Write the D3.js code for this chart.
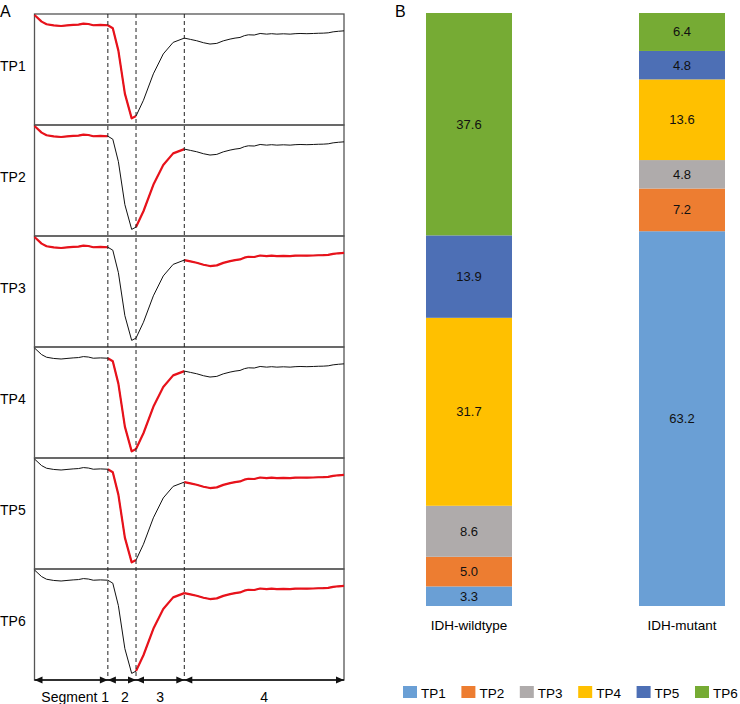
<!DOCTYPE html>
<html><head><meta charset="utf-8">
<script src="https://cdn.jsdelivr.net/npm/d3@7"></script>
<style>body{margin:0;background:#fff}svg{display:block;font-family:"Liberation Sans",Arial,sans-serif}</style>
</head><body>
<svg id="c" width="740" height="704"></svg>
<script>
// ---- Panel A data: signal curve (time as % of acquisition, normalized signal)
const time   = [0,2.3,3.9,6.2,8.6,10.5,12.5,14.2,15.8,17.4,19.0,21.3,23.7,25.3,27.1,29.2,31.4,32.8,35.2,38.4,41.6,44.8,48.4,50.4,52.4,54.6,56.7,58.9,61.0,63.2,64.8,66.4,67.8,69.1,71.0,72.9,75.0,76.6,78.3,80.4,82.6,84.2,85.8,88.0,90.1,91.7,93.3,94.9,96.5,98.2,100];
const signal = [1.0,0.94,0.916,0.905,0.90,0.905,0.91,0.913,0.922,0.918,0.907,0.91,0.907,0.88,0.676,0.285,0.06,0.081,0.225,0.465,0.646,0.751,0.79,0.778,0.766,0.748,0.736,0.742,0.765,0.781,0.79,0.796,0.812,0.82,0.818,0.832,0.826,0.83,0.826,0.829,0.826,0.83,0.832,0.83,0.832,0.834,0.835,0.838,0.847,0.852,0.856];
const segmentBreaks = [0, 23.7, 32.8, 48.4, 100];
const segmentLabels = ["Segment 1", "2", "3", "4"];
const patterns = ["TP1","TP2","TP3","TP4","TP5","TP6"];
const highlighted = [[0,1],[0,2],[0,3],[1,2],[1,3],[2,3]];

// ---- Panel B data
const groups = ["IDH-wildtype","IDH-mutant"];
const wildtype = [3.3,5.0,8.6,31.7,13.9,37.6];
const mutant   = [63.2,7.2,4.8,13.6,4.8,6.4];
const colors = ["#6a9fd5","#ed7d31","#afabab","#ffc000","#4d6fb5","#76ab34"];

const svg = d3.select("#c");

// ===== Panel A =====
const x = d3.scaleLinear().domain([0,100]).range([34.5,344]);
const top0 = 14, bottom0 = 680;
const band = d3.scaleBand().domain(patterns).range([top0,bottom0]);
const pts = time.map((t,i)=>({t, v:signal[i]}));

svg.append("text").attr("x",0).attr("y",17).attr("font-size",16).text("A");

patterns.forEach((p,k)=>{
  const y0 = band(p), h = band.bandwidth();
  const y = d3.scaleLinear().domain([0,1]).range([y0+h, y0+1]);
  const g = svg.append("g");
  g.append("rect").attr("x",x(0)).attr("y",y0).attr("width",x(100)-x(0)).attr("height",h)
    .attr("fill","none").attr("stroke","#555").attr("stroke-width",1.3);
  g.append("text").attr("x",0).attr("y",y0+h/2+1.5).attr("font-size",14).text(p);
  const line = d3.line().x(d=>x(d.t)).y(d=>y(d.v));
  g.append("path").datum(pts).attr("d",line).attr("fill","none").attr("stroke","#111").attr("stroke-width",1);
  highlighted[k].forEach(s=>{
    const a = segmentBreaks[s], b = segmentBreaks[s+1];
    const sub = pts.filter(d=>d.t>=a-1e-9 && d.t<=b+1e-9);
    g.append("path").datum(sub).attr("d",line).attr("fill","none").attr("stroke","#e8121b").attr("stroke-width",2.2).attr("stroke-linejoin","round");
  });
});

// dashed boundaries
segmentBreaks.slice(1,-1).forEach(b=>{
  svg.append("line").attr("x1",x(b)).attr("x2",x(b)).attr("y1",top0).attr("y2",bottom0)
    .attr("stroke","#222").attr("stroke-width",1).attr("stroke-dasharray","4,3");
});

// bottom axis with double arrows
svg.append("line").attr("x1",x(0)).attr("x2",x(100)).attr("y1",bottom0).attr("y2",bottom0).attr("stroke","#111").attr("stroke-width",1.5);
const ah = 8, aw = 3.5;
segmentLabels.forEach((lab,i)=>{
  const a = x(segmentBreaks[i]), b = x(segmentBreaks[i+1]);
  svg.append("path").attr("d",`M${a},${bottom0}L${a+ah},${bottom0-aw}L${a+ah},${bottom0+aw}Z`).attr("fill","#111");
  svg.append("path").attr("d",`M${b},${bottom0}L${b-ah},${bottom0-aw}L${b-ah},${bottom0+aw}Z`).attr("fill","#111");
  const cx = (a+b)/2 + (i===0?4:(i===1?3:0));
  svg.append("text").attr("x",cx).attr("y",702).attr("text-anchor","middle").attr("font-size",14).text(lab);
});

// ===== Panel B =====
svg.append("text").attr("x",395).attr("y",17).attr("font-size",16).text("B");
const xb = d3.scalePoint().domain(groups).range([469,682]);
const yb = d3.scaleLinear().domain([0,100]).range([606,13]);
const bw = 86;
[wildtype, mutant].forEach((vals,gi)=>{
  let cum = 0;
  const cx = xb(groups[gi]);
  vals.forEach((v,i)=>{
    const yTop = yb(Math.min(100,cum+v)), yBot = yb(cum);
    svg.append("rect").attr("x",cx-bw/2).attr("y",yTop).attr("width",bw).attr("height",yBot-yTop).attr("fill",colors[i]);
    svg.append("text").attr("x",cx).attr("y",(yTop+yBot)/2+4.5).attr("text-anchor","middle").attr("font-size",13).attr("fill","#111").text(v.toFixed(1));
    cum += v;
  });
  svg.append("text").attr("x",cx).attr("y",630).attr("text-anchor","middle").attr("font-size",13.5).text(groups[gi]);
});

// legend
const lx = d3.scalePoint().domain(patterns).range([403,695]);
patterns.forEach((p,i)=>{
  svg.append("rect").attr("x",lx(p)).attr("y",686).attr("width",14).attr("height",12).attr("fill",colors[i]);
  svg.append("text").attr("x",lx(p)+18).attr("y",697.5).attr("font-size",13.5).text(p);
});
</script>
</body></html>
